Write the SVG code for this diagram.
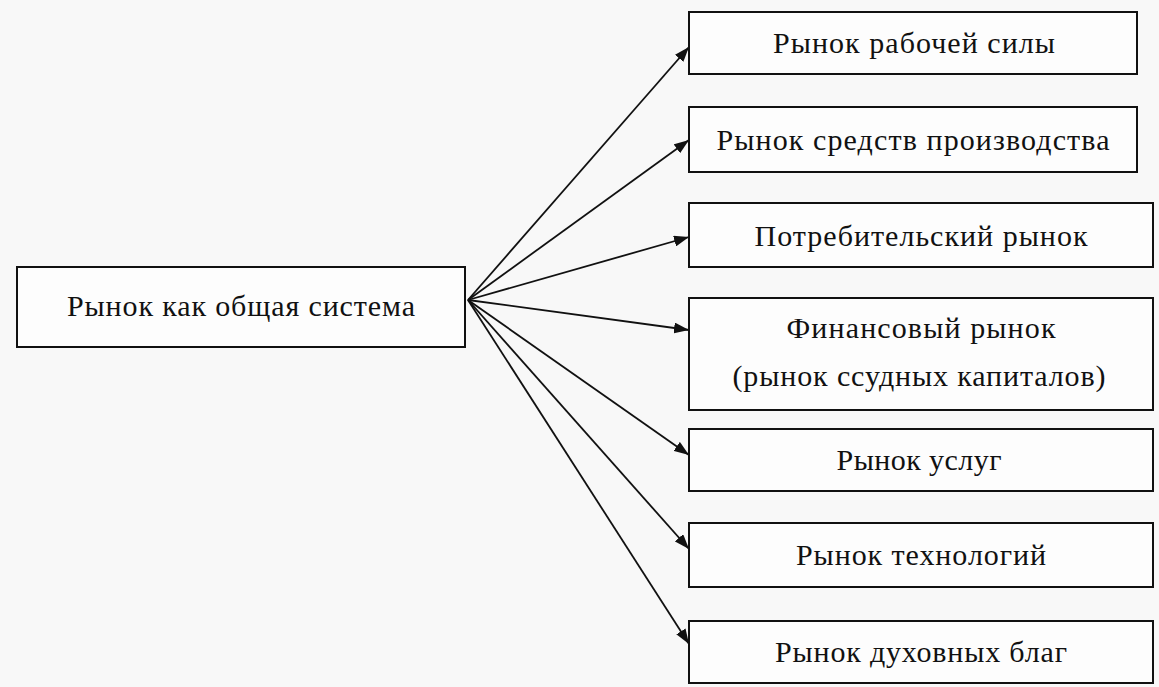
<svg xmlns="http://www.w3.org/2000/svg" width="1159" height="687" viewBox="0 0 1159 687">
<style>
.box{fill:#fdfdfd;stroke:#111;stroke-width:2}
.t{font-family:"Liberation Serif","DejaVu Serif",serif;font-size:30px;fill:#111;text-anchor:middle}
.c{stroke:#111;stroke-width:1.8;fill:none;marker-end:url(#ah)}
</style>
<defs>
<marker id="ah" viewBox="0 0 15 11" refX="15" refY="5.5" markerWidth="15" markerHeight="11" markerUnits="userSpaceOnUse" orient="auto">
<path d="M0,0 L15,5.5 L0,11 z" fill="#111"/>
</marker>
</defs>
<rect width="1159" height="687" fill="#f8f8f8"/>
<g id="connectors">
<line class="c" x1="468" y1="300" x2="689" y2="47"/>
<line class="c" x1="468" y1="300" x2="689" y2="140"/>
<line class="c" x1="468" y1="300" x2="689" y2="237"/>
<line class="c" x1="468" y1="300" x2="689" y2="330"/>
<line class="c" x1="468" y1="300" x2="689" y2="455"/>
<line class="c" x1="468" y1="300" x2="689" y2="549"/>
<line class="c" x1="468" y1="300" x2="689" y2="644"/>
</g>
<g id="root"><rect class="box" x="17" y="267" width="448" height="80"/><text class="t" x="241" y="316" textLength="348">Рынок как общая система</text></g>
<g id="n1"><rect class="box" x="689" y="12" width="448" height="62"/><text class="t" x="914" y="53" textLength="282">Рынок рабочей силы</text></g>
<g id="n2"><rect class="box" x="689" y="107" width="448" height="65"/><text class="t" x="913" y="150" textLength="393">Рынок средств производства</text></g>
<g id="n3"><rect class="box" x="689" y="203" width="464" height="64"/><text class="t" x="921" y="246" textLength="333">Потребительский рынок</text></g>
<g id="n4"><rect class="box" x="689" y="298" width="464" height="112"/><text class="t" x="921" y="338" textLength="269">Финансовый рынок</text><text class="t" x="919" y="386" textLength="373">(рынок ссудных капиталов)</text></g>
<g id="n5"><rect class="box" x="689" y="429" width="464" height="62"/><text class="t" x="919" y="470" textLength="165">Рынок услуг</text></g>
<g id="n6"><rect class="box" x="689" y="523" width="464" height="64"/><text class="t" x="921" y="565" textLength="250">Рынок технологий</text></g>
<g id="n7"><rect class="box" x="689" y="621" width="464" height="62"/><text class="t" x="921" y="662" textLength="292">Рынок духовных благ</text></g>
</svg>
